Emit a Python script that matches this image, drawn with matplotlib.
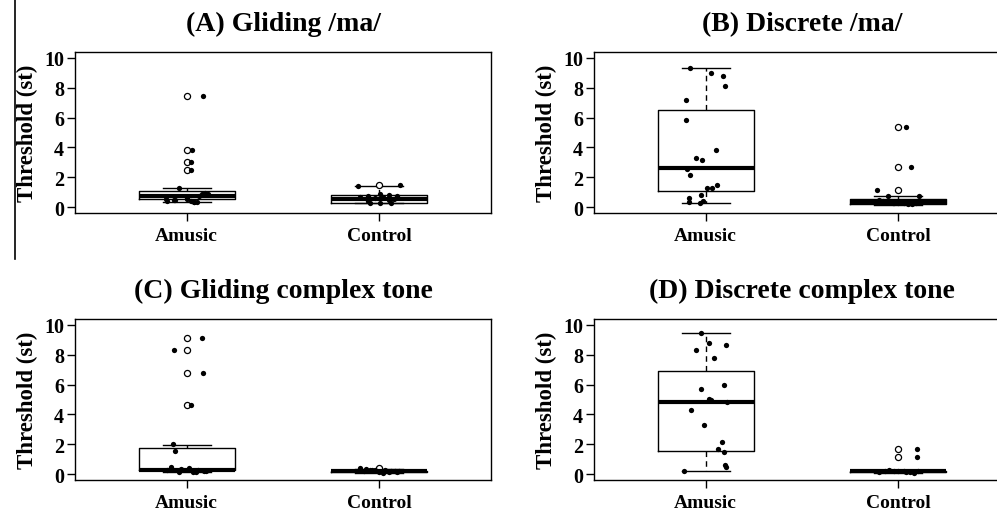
import numpy as np
import matplotlib
matplotlib.use("Agg")
import matplotlib.pyplot as plt
from matplotlib.lines import Line2D

plt.rcParams['font.family'] = ['Liberation Serif', 'DejaVu Serif']
plt.rcParams['font.weight'] = 'bold'

titles = ["(A) Gliding /ma/", "(B) Discrete /ma/",
          "(C) Gliding complex tone", "(D) Discrete complex tone"]
groups = ["Amusic", "Control"]
yticks = [0, 2, 4, 6, 8, 10]

# box stats: (whislo, q1, med, q3, whishi)
box_A_amusic = [0.31, 0.54, 0.75, 1.10, 1.28]
box_A_control = [0.24, 0.28, 0.55, 0.78, 1.43]
box_B_amusic = [0.29, 1.05, 2.61, 6.52, 9.31]
box_B_control = [0.17, 0.22, 0.33, 0.55, 0.71]
box_C_amusic = [0.11, 0.24, 0.29, 1.76, 1.96]
box_C_control = [0.05, 0.14, 0.18, 0.22, 0.33]
box_D_amusic = [0.18, 1.56, 4.82, 6.90, 9.49]
box_D_control = [0.08, 0.15, 0.18, 0.22, 0.30]

out_A_amusic = [7.48, 3.84, 2.99, 2.50]
out_A_control = [1.50]
out_B_amusic = []
out_B_control = [5.36, 2.68, 1.16]
out_C_amusic = [9.15, 8.30, 6.81, 4.64]
out_C_control = [0.40]
out_D_amusic = []
out_D_control = [1.67, 1.14]

# individual thresholds and their jitter offsets
pts_A_amusic = [7.48, 3.84, 2.99, 2.50, 1.27, 0.94, 0.87, 0.85, 0.76, 0.60,
                0.56, 0.54, 0.49, 0.45, 0.42, 0.38, 0.36, 0.33, 0.31]
jit_A_amusic = [0.085, 0.03, 0.024, 0.024, -0.04, 0.093, 0.08, 0.11, 0.064, 0.0,
                -0.109, 0.0, -0.062, -0.066, 0.024, -0.10, 0.055, 0.04, 0.038]
pts_A_control = [1.50, 1.43, 0.87, 0.80, 0.76, 0.72, 0.65, 0.65, 0.58, 0.54,
                 0.49, 0.38, 0.27, 0.25, 0.30]
jit_A_control = [0.105, -0.11, 0.005, 0.048, -0.06, 0.09, -0.098, 0.02, -0.02, 0.075,
                 0.048, -0.06, -0.047, 0.005, 0.06]
pts_B_amusic = [9.31, 8.97, 8.82, 8.15, 7.17, 5.83, 3.82, 3.28, 3.13, 2.57,
                2.17, 1.50, 1.29, 1.27, 0.83, 0.60, 0.33, 0.29, 0.38]
jit_B_amusic = [-0.083, 0.029, 0.09, 0.10, -0.104, -0.104, 0.052, -0.048, -0.021, -0.095,
                -0.081, 0.06, 0.031, 0.009, -0.026, -0.086, -0.088, -0.029, -0.014]
pts_B_control = [5.36, 2.68, 1.16, 0.71, 0.71, 0.45, 0.38, 0.33, 0.30, 0.27,
                 0.25, 0.22, 0.20, 0.30, 0.35, 0.25]
jit_B_control = [0.041, 0.066, -0.112, -0.052, 0.109, -0.1, -0.08, -0.05, -0.02, 0.0,
                 0.03, 0.05, 0.07, 0.09, 0.1, -0.03]
pts_C_amusic = [9.15, 8.30, 6.81, 4.64, 1.99, 1.56, 0.45, 0.40, 0.35, 0.30,
                0.25, 0.20, 0.18, 0.15, 0.15, 0.12]
jit_C_amusic = [0.081, -0.066, 0.086, 0.022, -0.069, -0.06, -0.08, 0.01, -0.03, -0.1,
                0.06, 0.09, 0.1, -0.04, 0.035, 0.05]
pts_C_control = [0.38, 0.35, 0.30, 0.28, 0.25, 0.22, 0.20, 0.18, 0.15, 0.12,
                 0.10, 0.20, 0.25, 0.15]
jit_C_control = [-0.1, -0.07, -0.04, 0.03, -0.02, 0.06, 0.08, -0.08, 0.0, 0.05,
                 0.02, 0.1, -0.05, 0.09]
pts_D_amusic = [9.49, 8.82, 8.64, 8.30, 7.81, 5.69, 5.98, 5.02, 4.98, 4.80,
                4.31, 3.30, 2.12, 1.67, 1.50, 0.63, 0.45, 0.18]
jit_D_amusic = [-0.026, 0.017, 0.104, -0.048, 0.041, -0.026, 0.095, 0.017, 0.026, 0.112,
                -0.078, -0.01, 0.086, 0.066, 0.095, 0.10, 0.105, -0.112]
pts_D_control = [1.67, 1.14, 0.25, 0.22, 0.20, 0.18, 0.15, 0.12, 0.10, 0.22,
                 0.18, 0.15]
jit_D_control = [0.095, 0.095, -0.05, -0.02, 0.0, 0.03, 0.06, -0.1, 0.08, 0.1,
                 -0.07, 0.04]

boxes = [(box_A_amusic, box_A_control), (box_B_amusic, box_B_control),
         (box_C_amusic, box_C_control), (box_D_amusic, box_D_control)]
outs = [(out_A_amusic, out_A_control), (out_B_amusic, out_B_control),
        (out_C_amusic, out_C_control), (out_D_amusic, out_D_control)]
pts = [((pts_A_amusic, jit_A_amusic), (pts_A_control, jit_A_control)),
       ((pts_B_amusic, jit_B_amusic), (pts_B_control, jit_B_control)),
       ((pts_C_amusic, jit_C_amusic), (pts_C_control, jit_C_control)),
       ((pts_D_amusic, jit_D_amusic), (pts_D_control, jit_D_control))]

W, H = 997, 510
fig = plt.figure(figsize=(W / 100, H / 100), dpi=100)

# axes boxes in pixels: left, top, right, bottom
rects = [(75, 53, 491, 214), (594, 53, 1010, 214),
         (75, 320, 491, 481), (594, 320, 1010, 481)]

for k in range(4):
    l, t, r, b = rects[k]
    ax = fig.add_axes([l / W, 1 - b / H, (r - l) / W, (b - t) / H])
    stats = []
    for g in range(2):
        lo, q1, med, q3, hi = boxes[k][g]
        stats.append(dict(whislo=lo, q1=q1, med=med, q3=q3, whishi=hi,
                          fliers=outs[k][g], label=groups[g]))
    ax.bxp(stats, positions=[1, 2], widths=0.5, capwidths=0.25,
           showfliers=True,
           boxprops=dict(color='black', lw=1),
           medianprops=dict(color='black', lw=3, solid_capstyle='butt'),
           whiskerprops=dict(color='black', lw=1, linestyle=(0, (4, 3))),
           capprops=dict(color='black', lw=1),
           flierprops=dict(marker='o', markerfacecolor='white',
                           markeredgecolor='black', markersize=4.4, mew=0.9))
    for g in range(2):
        vals, jit = pts[k][g]
        ax.plot(np.array(jit) + g + 1, vals, 'o', color='black',
                markersize=3.8, mew=0, zorder=4)
    ax.set_xlim(0.42, 2.58)
    ax.set_ylim(-0.4, 10.4)
    ax.set_yticks(yticks)
    ax.set_xticks([1, 2])
    ax.set_xticklabels(groups, fontsize=14, fontweight='bold')
    ax.tick_params(axis='y', labelsize=14.5, length=6, width=1, pad=2)
    ax.tick_params(axis='x', length=6, width=1, pad=4)
    for lab in ax.get_yticklabels():
        lab.set_fontweight('bold')
    for s in ax.spines.values():
        s.set_linewidth(1)
    ax.set_ylabel("Threshold (st)", fontsize=16.5, fontweight='bold', labelpad=4)
    ax.set_title(titles[k], fontsize=20, fontweight='bold', pad=16)

fig.add_artist(Line2D([15 / W, 15 / W], [1.0, 1 - 260 / H], color='black', lw=1.2))

fig.savefig("out.png", dpi=100)
